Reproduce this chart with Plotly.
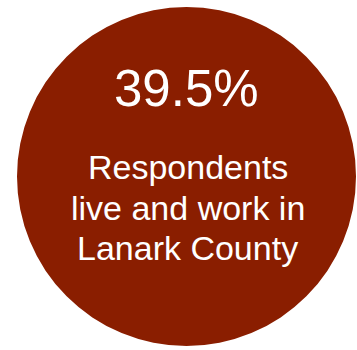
import plotly.graph_objects as go

value_pct = [39.5]
label_lines = ["Respondents", "live and work in", "Lanark County"]

W, H = 357, 350
fig = go.Figure()
fig.add_trace(go.Scatter(x=[186.5], y=[176.5], mode="markers",
                         marker=dict(size=0.1, opacity=0), hoverinfo="skip", showlegend=False))
fig.add_shape(type="circle", xref="x", yref="y", x0=17, x1=356, y0=7, y1=346,
              fillcolor="#8A1E00", line=dict(width=0), layer="below")

font = "Liberation Sans, Arial, sans-serif"
fig.add_annotation(x=186, y=88, xref="x", yref="y", text=f"{value_pct[0]}%",
                   showarrow=False, yanchor="middle", xanchor="center",
                   font=dict(family=font, size=51, color="white"))
ys = [167, 207.5, 248]
for line, yy in zip(label_lines, ys):
    fig.add_annotation(x=187.5, y=yy, xref="x", yref="y", text=line,
                       showarrow=False, yanchor="middle", xanchor="center",
                       font=dict(family=font, size=34, color="white"))

fig.update_xaxes(range=[0, W], visible=False, fixedrange=True)
fig.update_yaxes(range=[H, 0], visible=False, fixedrange=True)
fig.update_layout(width=W, height=H, margin=dict(l=0, r=0, t=0, b=0),
                  paper_bgcolor="white", plot_bgcolor="white", showlegend=False)
fig.write_html("out.html", config={"displayModeBar": False})
